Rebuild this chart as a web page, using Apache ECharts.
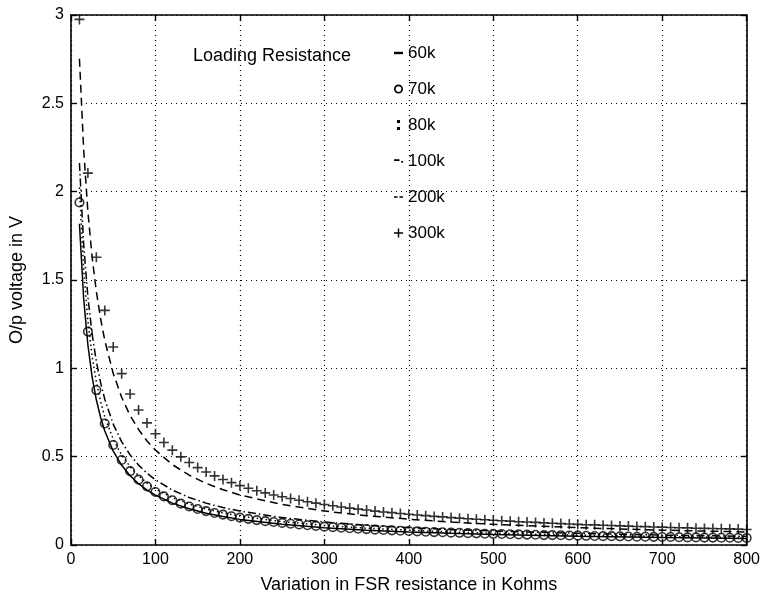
<!DOCTYPE html>
<html><head><meta charset="utf-8">
<script src="https://cdn.jsdelivr.net/npm/echarts@6/dist/echarts.min.js"></script>
<style>html,body{margin:0;padding:0;background:#fff}#c{width:763px;height:599px}</style>
</head><body><div id="c"></div>
<script>
// Line series sample positions (FSR resistance, kOhm)
const lineX = [10,15,20,25,30,35,40,50,60,70,80,90,100,120,140,160,180,200,250,300,350,400,450,500,600,700,800];
const v60k  = [1.818,1.395,1.132,0.952,0.822,0.723,0.645,0.531,0.451,0.392,0.347,0.311,0.282,0.237,0.205,0.180,0.161,0.145,0.117,0.098,0.084,0.074,0.066,0.059,0.049,0.042,0.037];
const v80k  = [2.024,1.560,1.269,1.069,0.924,0.813,0.726,0.599,0.509,0.443,0.392,0.351,0.318,0.268,0.232,0.204,0.182,0.164,0.132,0.111,0.095,0.084,0.074,0.067,0.056,0.048,0.042];
const v100k = [2.162,1.702,1.404,1.194,1.039,0.920,0.825,0.684,0.584,0.510,0.452,0.406,0.369,0.311,0.269,0.237,0.212,0.192,0.155,0.130,0.112,0.098,0.087,0.079,0.066,0.056,0.049];
const v200k = [2.752,2.239,1.887,1.630,1.435,1.282,1.158,0.971,0.836,0.733,0.654,0.589,0.537,0.455,0.395,0.349,0.313,0.283,0.229,0.192,0.166,0.146,0.130,0.117,0.098,0.084,0.074];

// Marker series sample positions
const markerX = [10,20,30,40,50,60,70,80,90,100,110,120,130,140,150,160,170,180,190,200,
  210,220,230,240,250,260,270,280,290,300,310,320,330,340,350,360,370,380,390,400,
  410,420,430,440,450,460,470,480,490,500,510,520,530,540,550,560,570,580,590,600,
  610,620,630,640,650,660,670,680,690,700,710,720,730,740,750,760,770,780,790,800];
const v70k = [1.939,1.208,0.877,0.688,0.566,0.481,0.418,0.370,0.332,0.300,0.275,0.253,0.234,0.218,0.204,0.192,0.181,0.172,0.163,0.155,
  0.148,0.141,0.135,0.130,0.125,0.120,0.116,0.112,0.108,0.104,0.101,0.098,0.095,0.092,0.090,0.087,0.085,0.083,0.081,0.079,
  0.077,0.075,0.073,0.072,0.070,0.069,0.067,0.066,0.064,0.063,0.062,0.061,0.060,0.059,0.058,0.056,0.056,0.055,0.054,0.053,
  0.052,0.051,0.050,0.050,0.049,0.048,0.047,0.047,0.046,0.045,0.045,0.044,0.043,0.043,0.042,0.042,0.041,0.041,0.040,0.040];
const v300k = [2.975,2.105,1.629,1.328,1.121,0.970,0.855,0.764,0.691,0.630,0.580,0.537,0.499,0.467,0.438,0.413,0.391,0.371,0.353,0.336,
  0.321,0.307,0.295,0.283,0.273,0.263,0.253,0.245,0.237,0.229,0.222,0.215,0.209,0.203,0.198,0.192,0.187,0.183,0.178,0.174,
  0.170,0.166,0.162,0.159,0.155,0.152,0.149,0.146,0.143,0.140,0.137,0.135,0.132,0.130,0.128,0.125,0.123,0.121,0.119,0.117,
  0.115,0.114,0.112,0.110,0.108,0.107,0.105,0.104,0.102,0.101,0.099,0.098,0.097,0.095,0.094,0.093,0.092,0.091,0.090,0.088];

const seriesNames = ['60k','70k','80k','100k','200k','300k'];
const legendTitle = 'Loading Resistance';
const xName = 'Variation in FSR resistance in Kohms';
const yName = 'O/p voltage in V';

const pair = (xs, ys) => xs.map((x, i) => [x, ys[i]]);
const FONT = "'Liberation Sans', Arial, Helvetica, sans-serif";
const plusPath = 'path://M4.2,0H5.8V4.2H10V5.8H5.8V10H4.2V5.8H0V4.2H4.2Z';
// legend glyphs imitating MATLAB's line-style samples
const legendIcons = {
  '60k':  'path://M2,4.2H8V5.8H2Z',
  '70k':  'path://M5,1.5A3.5,3.5,0,1,1,4.99,1.5ZM5,2.8A2.2,2.2,0,1,0,5.01,2.8Z',
  '80k':  'path://M4.2,2.4H5.8V4H4.2ZM4.2,6H5.8V7.6H4.2Z',
  '100k': 'path://M0,4.1H5.5V5.9H0ZM7.2,6H9V7.8H7.2Z',
  '200k': 'path://M0,4.1H4V5.9H0ZM6,4.1H10V5.9H6Z',
  '300k': plusPath
};

const chart = echarts.init(document.getElementById('c'));
const baseAxis = {
  min: 0,
  axisLine: {show: true, onZero: false, lineStyle: {color: '#000', width: 1.6}},
  axisTick: {show: true, inside: true, length: 6, lineStyle: {color: '#000', width: 1.4}},
};
chart.setOption({
  animation: false,
  backgroundColor: '#fff',
  title: {
    text: legendTitle, left: 188, top: 42,
    textStyle: {fontFamily: FONT, fontSize: 18, fontWeight: 'normal', color: '#000'}
  },
  legend: {
    orient: 'vertical', left: 389, top: 39,
    itemWidth: 9, itemHeight: 10, itemGap: 18,
    itemStyle: {color: '#000', borderColor: '#000', borderWidth: 0, opacity: 1},
    lineStyle: {opacity: 0, width: 0},
    textStyle: {fontFamily: FONT, fontSize: 17, color: '#000', lineHeight: 18},
    data: seriesNames.map(n => ({name: n, icon: legendIcons[n],
      itemStyle: {color: '#000', borderWidth: 0, opacity: 1},
      lineStyle: {opacity: 0, width: 0}}))
  },
  grid: {left: 64, right: 16, top: 15, bottom: 47, containLabel: false},
  xAxis: [
    Object.assign({}, baseAxis, {
      type: 'value', max: 800, interval: 100, position: 'bottom',
      name: xName, nameLocation: 'middle', nameGap: 31,
      nameTextStyle: {fontFamily: FONT, fontSize: 18, color: '#000'},
      axisLabel: {fontFamily: FONT, fontSize: 16, color: '#000', margin: 7},
      splitLine: {show: true, lineStyle: {color: '#000', type: [1, 4], width: 1.2}}
    }),
    Object.assign({}, baseAxis, {
      type: 'value', max: 800, interval: 100, position: 'top',
      axisLabel: {show: false}, splitLine: {show: false}
    })
  ],
  yAxis: [
    Object.assign({}, baseAxis, {
      type: 'value', max: 3, interval: 0.5, position: 'left',
      name: yName, nameLocation: 'middle', nameGap: 45, nameRotate: 90,
      nameTextStyle: {fontFamily: FONT, fontSize: 18, color: '#000'},
      axisLabel: {fontFamily: FONT, fontSize: 16, color: '#000', margin: 7},
      splitLine: {show: true, lineStyle: {color: '#000', type: [1, 4], width: 1.2}}
    }),
    Object.assign({}, baseAxis, {
      type: 'value', max: 3, interval: 0.5, position: 'right',
      axisLabel: {show: false}, splitLine: {show: false}
    })
  ],
  series: [
    {name: '60k', type: 'line', data: pair(lineX, v60k), symbol: 'none',
     lineStyle: {color: '#000', width: 1.5, type: 'solid'}, itemStyle: {color: '#000'}},
    {name: '70k', type: 'scatter', data: pair(markerX, v70k), symbol: 'circle', symbolSize: 8.5,
     itemStyle: {color: 'rgba(0,0,0,0)', borderColor: '#000', borderWidth: 1.6}},
    {name: '80k', type: 'line', data: pair(lineX, v80k), symbol: 'none',
     lineStyle: {color: '#000', width: 1.5, type: [1.5, 3]}, itemStyle: {color: '#000'}},
    {name: '100k', type: 'line', data: pair(lineX, v100k), symbol: 'none',
     lineStyle: {color: '#000', width: 1.5, type: [8, 3, 1.5, 3]}, itemStyle: {color: '#000'}},
    {name: '200k', type: 'line', data: pair(lineX, v200k), symbol: 'none',
     lineStyle: {color: '#000', width: 1.5, type: [8, 5]}, itemStyle: {color: '#000'}},
    {name: '300k', type: 'scatter', data: pair(markerX, v300k), symbol: plusPath, symbolSize: 10,
     itemStyle: {color: '#000'}}
  ]
});
</script>
</body></html>
